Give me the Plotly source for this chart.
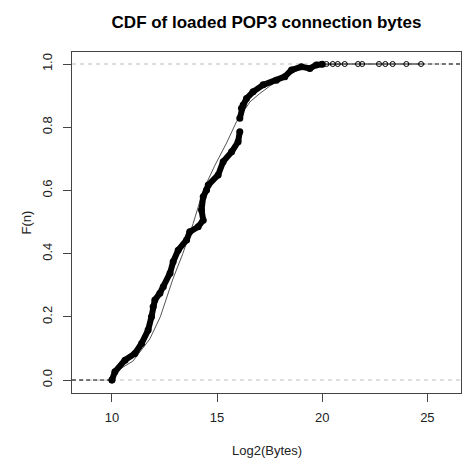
import plotly.graph_objects as go

ecdf_x = [10.0, 10.14, 10.62, 11.09, 11.41, 11.72, 11.88, 11.96, 12.04, 12.28, 12.44,
          12.76, 12.91, 13.15, 13.55, 13.7, 14.1, 14.34, 14.26, 14.34, 14.5, 14.58,
          15.05, 15.29, 15.69, 16.0, 16.08]
ecdf_y = [0.0, 0.026, 0.063, 0.084, 0.116, 0.158, 0.20, 0.232, 0.253, 0.275, 0.295,
          0.338, 0.374, 0.411, 0.443, 0.469, 0.485, 0.506, 0.538, 0.58, 0.601, 0.617,
          0.649, 0.691, 0.722, 0.754, 0.786]
ecdf2_x = [16.08, 16.16, 16.24, 16.4, 16.71, 17.19, 17.82, 18.22, 18.54, 19.01, 19.41,
           19.72, 20.0]
ecdf2_y = [0.828, 0.86, 0.87, 0.891, 0.912, 0.934, 0.949, 0.96, 0.981, 0.991, 0.986,
           0.997, 0.999]

# sparse upper tail points
tail_x = [20.2, 20.5, 20.74, 21.07, 21.7, 21.9, 22.7, 23.0, 23.35, 24.0, 24.7]
tail_y = [1.0] * len(tail_x)

# fitted curve (thin line)
fit_x = [10.0, 11.0, 11.8, 12.3, 12.9, 13.37, 13.86, 14.34, 14.9, 15.45, 15.92,
         16.56, 17.0, 17.5, 18.2, 19.0, 20.0, 21.0]
fit_y = [0.02, 0.06, 0.13, 0.20, 0.32, 0.40, 0.495, 0.60, 0.68, 0.75, 0.817,
         0.88, 0.905, 0.93, 0.96, 0.985, 0.997, 1.0]

x_range = [8.1, 26.6]
y_range = [-0.041, 1.038]
x_ticks = [10, 15, 20, 25]
y_ticks = [0.0, 0.2, 0.4, 0.6, 0.8, 1.0]
y_ticktext = ["0.0", "0.2", "0.4", "0.6", "0.8", "1.0"]

fig = go.Figure()

# grey dashed reference lines at 0 and 1
for yv in (0, 1):
    fig.add_trace(go.Scatter(x=x_range, y=[yv, yv], mode="lines",
                             line=dict(color="#bdbdbd", width=1, dash="4px,4px"),
                             hoverinfo="skip", showlegend=False))

# black dashed extensions of the step function
fig.add_trace(go.Scatter(x=[x_range[0], ecdf_x[0]], y=[0, 0], mode="lines",
                         line=dict(color="black", width=1, dash="4px,3px"), showlegend=False))
fig.add_trace(go.Scatter(x=[tail_x[-1], x_range[1]], y=[1, 1], mode="lines",
                         line=dict(color="black", width=1, dash="4px,3px"), showlegend=False))
fig.add_trace(go.Scatter(x=[ecdf2_x[-1], tail_x[-1]], y=[1, 1], mode="lines",
                         line=dict(color="black", width=1.2), showlegend=False))

# fitted thin line
fig.add_trace(go.Scatter(x=fit_x, y=fit_y, mode="lines",
                         line=dict(color="#555555", width=1), showlegend=False))

# dense ECDF band
for xs, ys in ((ecdf_x, ecdf_y), (ecdf2_x, ecdf2_y)):
    fig.add_trace(go.Scatter(x=xs, y=ys, mode="lines+markers",
                             line=dict(color="black", width=6),
                             marker=dict(symbol="circle", size=7, color="black"),
                             showlegend=False))

# open circles on the tail
fig.add_trace(go.Scatter(x=tail_x, y=tail_y, mode="markers",
                         marker=dict(symbol="circle-open", size=5, color="black",
                                     line=dict(width=1)),
                         showlegend=False))
fig.add_trace(go.Scatter(x=[ecdf_x[0]], y=[ecdf_y[0]], mode="markers",
                         marker=dict(symbol="circle-open", size=6, color="black"),
                         showlegend=False))

font = "Liberation Sans, Arial, sans-serif"
fig.update_layout(
    width=464, height=471,
    margin=dict(l=72, r=3, t=52, b=78),
    paper_bgcolor="white", plot_bgcolor="white",
    font=dict(family=font, size=13, color="#222222"),
    title=dict(text="<b>CDF of loaded POP3 connection bytes</b>",
               x=0.5, xref="paper", xanchor="center", y=1 - 22 / 471, yanchor="middle",
               font=dict(family=font, size=17, color="black")),
    xaxis=dict(range=x_range, tickvals=x_ticks, ticks="outside", ticklen=8,
               tickcolor="#444", showline=True, linecolor="#444", linewidth=1,
               mirror=True, showgrid=False, zeroline=False, ticklabelstandoff=4,
               tickfont=dict(size=13, color="#222")),
    yaxis=dict(range=y_range, tickvals=y_ticks, ticktext=y_ticktext,
               ticks="outside", ticklen=8, tickangle=-90, ticklabelstandoff=6,
               tickcolor="#444", showline=True, linecolor="#444", linewidth=1,
               mirror=True, showgrid=False, zeroline=False,
               tickfont=dict(size=13, color="#222")),
    annotations=[
        dict(text="Log2(Bytes)", xref="paper", yref="paper", x=0.5, y=0,
             yshift=-57, xanchor="center", yanchor="middle", showarrow=False,
             font=dict(size=13, color="#222")),
        dict(text="F(n)", xref="paper", yref="paper", x=0, y=0.5, xshift=-46,
             xanchor="center", yanchor="middle", textangle=-90, showarrow=False,
             font=dict(size=13, color="#222")),
    ],
)

fig.write_html("out.html")
